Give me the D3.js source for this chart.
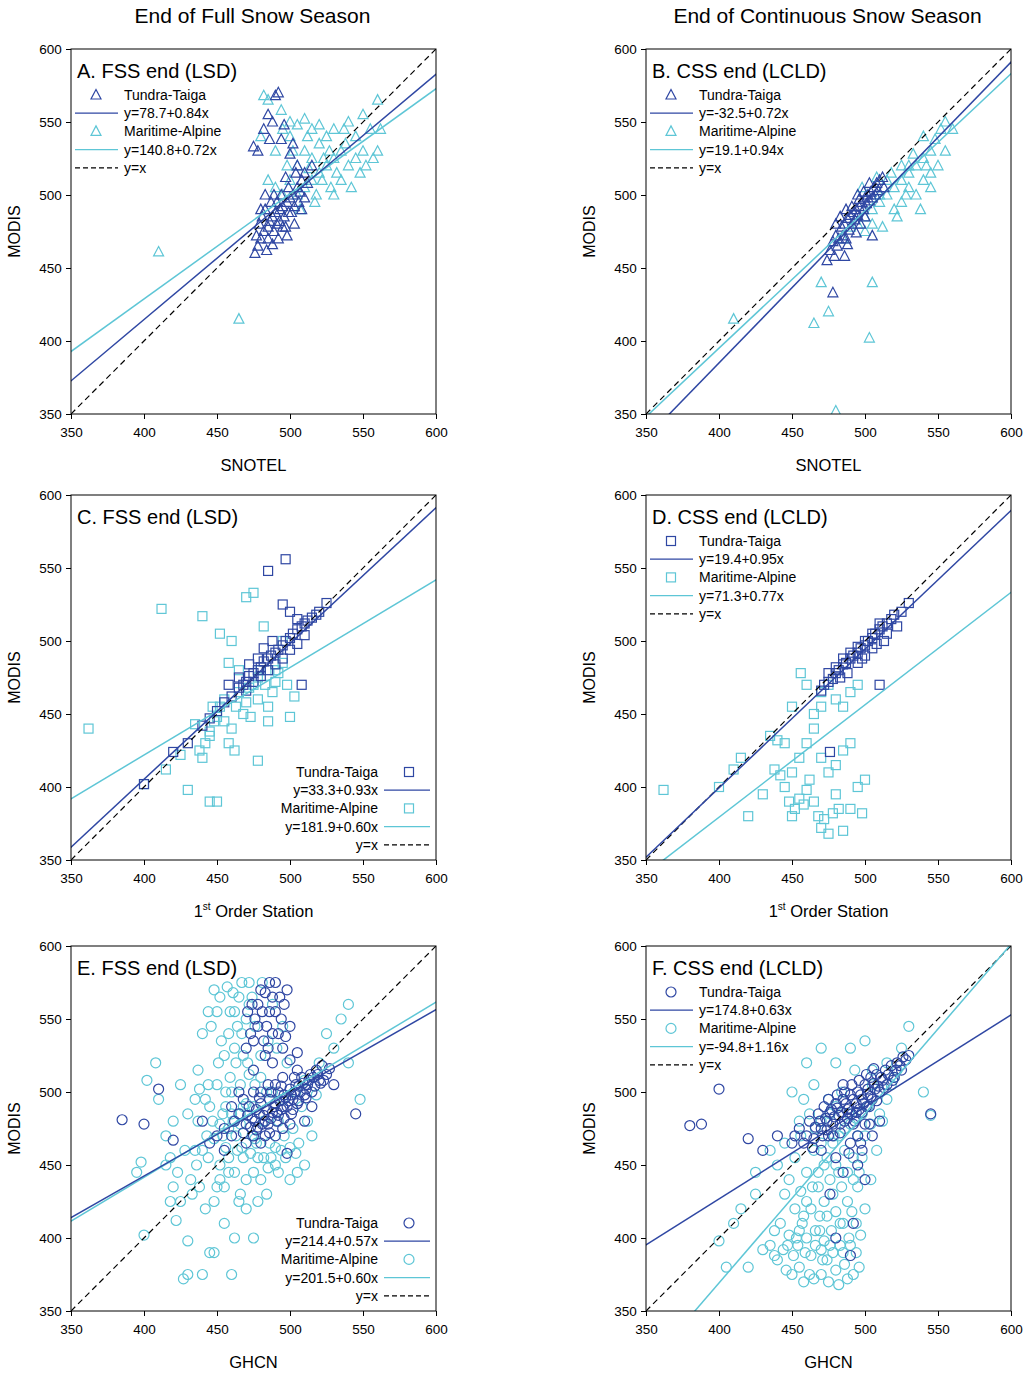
<!DOCTYPE html>
<html><head><meta charset="utf-8">
<script src="https://cdn.jsdelivr.net/npm/d3@7"></script>
<style>body{margin:0;background:#fff;font-family:Arial,"Liberation Sans",sans-serif}</style>
</head><body><svg id="c" width="1024" height="1374"></svg>
<script>
const ticks=[350,400,450,500,550,600];
const DARK="#2f47a3", LIGHT="#5ec6d6";
const columnTitles=["End of Full Snow Season","End of Continuous Snow Season"];
const xTitles=["SNOTEL","1st Order Station","GHCN"];
const panelTitles=["A. FSS end (LSD)","B. CSS end (LCLD)","C. FSS end (LSD)","D. CSS end (LCLD)","E. FSS end (LSD)","F. CSS end (LCLD)"];
const eqTT=["y=78.7+0.84x","y=-32.5+0.72x","y=33.3+0.93x","y=19.4+0.95x","y=214.4+0.57x","y=174.8+0.63x"];
const eqMA=["y=140.8+0.72x","y=19.1+0.94x","y=181.9+0.60x","y=71.3+0.77x","y=201.5+0.60x","y=-94.8+1.16x"];
const lineTT=[[78.7,0.84],[-27,1.03],[33.3,0.93],[19.4,0.95],[214.4,0.57],[174.8,0.63]];
const lineMA=[[140.8,0.72],[19.1,0.94],[181.9,0.60],[71.3,0.77],[201.5,0.60],[-94.8,1.16]];
const shapes=["tri","tri","sq","sq","circ","circ"];
const legendPos=["tl","tl","br","tl","br","tl"];

const aTT=[[478,465],[480,470],[482,475],[485,478],[486,482],[488,485],[490,488],[491,480],[493,490],[495,492],[496,485],[498,495],[500,498],[502,500],[503,492],[505,505],[507,502],[508,510],[510,498],[512,508],[485,470],[483,490],[487,495],[489,475],[492,470],[494,500],[497,478],[499,505],[501,488],[504,515],[506,495],[476,460],[479,480],[481,485],[484,462],[478,530],[482,545],[485,555],[490,568],[492,570],[488,550],[494,538],[496,548],[500,528],[502,535],[486,538],[505,520],[498,472],[510,515],[515,520],[508,490],[489,500],[493,482],[497,512],[483,500],[477,472],[480,490],[491,495],[495,478],[499,488],[503,480],[488,466],[475,533]];
const aMA=[[495,500],[500,510],[505,520],[510,530],[515,525],[520,535],[525,540],[530,545],[535,530],[540,550],[545,540],[550,555],[555,545],[560,530],[505,500],[510,505],[515,510],[520,515],[525,520],[530,525],[535,510],[540,520],[545,525],[550,530],[495,545],[500,540],[505,548],[510,552],[490,530],[485,565],[480,540],[498,520],[512,540],[518,500],[522,510],[528,505],[532,515],[538,535],[548,515],[557,525],[410,461],[465,415],[502,530],[507,490],[517,495],[527,530],[490,505],[485,510],[520,548],[530,500],[542,505],[552,520],[562,545],[537,545],[513,518],[523,525],[482,568],[494,558],[500,550],[515,545],[560,565]];
const bTT=[[476,462],[478,468],[480,472],[482,470],[484,478],[486,480],[488,484],[490,486],[492,488],[494,490],[496,492],[498,495],[500,498],[502,500],[504,502],[506,505],[508,508],[510,510],[512,512],[479,458],[481,465],[485,472],[487,470],[489,476],[491,480],[493,483],[495,486],[497,480],[499,490],[501,494],[503,496],[505,498],[507,500],[509,503],[483,485],[487,490],[491,492],[495,500],[499,502],[503,508],[488,466],[494,474],[500,485],[478,433],[505,472],[513,505],[480,480],[496,497],[486,458],[474,455]];
const bMA=[[495,480],[500,485],[505,490],[510,495],[515,500],[520,505],[525,510],[530,505],[535,500],[540,510],[545,515],[550,520],[555,530],[560,545],[520,490],[525,495],[530,515],[535,520],[540,525],[545,530],[515,510],[510,500],[505,480],[500,475],[525,520],[530,520],[518,515],[540,540],[548,538],[552,545],[555,550],[542,520],[528,500],[538,490],[522,485],[512,478],[410,415],[465,412],[475,420],[470,440],[505,440],[503,402],[480,352],[485,470],[490,478],[498,505],[508,512],[533,528],[545,505]];
const cTT=[[400,402],[420,424],[430,430],[440,442],[445,447],[450,452],[455,458],[460,462],[465,468],[468,470],[470,472],[472,476],[475,478],[478,480],[480,482],[482,486],[485,488],[487,490],[490,492],[492,494],[495,497],[497,500],[500,502],[502,505],[505,508],[508,510],[510,512],[512,514],[515,516],[518,518],[520,520],[525,526],[470,466],[475,472],[480,476],[485,480],[490,484],[495,488],[500,494],[505,498],[510,504],[485,548],[497,556],[495,525],[508,470],[500,520],[482,495],[488,500],[478,488],[465,475],[472,484],[458,470],[505,515]];
const cMA=[[362,440],[400,402],[412,522],[415,412],[425,422],[430,398],[440,517],[445,390],[450,390],[435,443],[440,420],[442,430],[445,438],[448,445],[450,448],[452,455],[455,460],[458,430],[460,440],[462,425],[465,465],[468,450],[470,458],[472,468],[475,470],[478,475],[480,480],[483,470],[485,455],[488,465],[490,472],[492,478],[495,485],[498,470],[500,448],[503,462],[478,418],[465,480],[458,485],[470,530],[475,533],[482,510],[460,500],[452,505],[445,435],[438,425],[447,455],[455,445],[463,455],[473,448],[485,445],[490,480],[495,500],[478,460]];
const dTT=[[470,466],[472,470],[475,472],[478,474],[480,478],[482,480],[485,484],[487,485],[490,488],[492,490],[495,492],[497,495],[500,497],[502,500],[505,502],[507,505],[510,508],[512,510],[515,512],[518,515],[520,518],[522,510],[525,520],[530,526],[475,478],[480,482],[485,488],[490,492],[495,496],[500,500],[505,505],[510,512],[515,505],[500,490],[495,485],[505,495],[476,424],[510,470],[483,475],[488,478],[498,488],[508,498],[513,500]];
const dMA=[[362,398],[400,400],[410,412],[415,420],[420,380],[430,395],[435,435],[440,432],[445,430],[450,455],[438,412],[442,408],[445,400],[448,390],[450,380],[452,385],[455,392],[458,388],[460,398],[462,405],[465,390],[468,380],[470,372],[472,378],[475,368],[478,382],[480,395],[482,385],[485,370],[490,385],[495,400],[498,382],[485,425],[490,430],[480,415],[475,410],[470,420],[465,440],[460,430],[455,420],[450,410],[470,465],[475,470],[480,460],[485,455],[490,465],[495,470],[465,450],[470,455],[460,470],[456,478],[500,405]];
const eTT=[[385,481],[400,478],[410,502],[420,467],[440,480],[450,470],[455,475],[460,470],[462,480],[465,485],[468,472],[470,478],[472,490],[474,482],[475,470],[477,488],[478,476],[480,492],[482,484],[483,470],[485,478],[486,495],[488,486],[490,492],[491,480],[492,500],[494,488],[495,475],[496,498],[498,490],[500,502],[501,485],[502,495],[504,505],[505,492],[507,500],[508,510],[510,498],[512,505],[514,512],[515,500],[518,515],[520,508],[522,518],[525,512],[530,505],[545,485],[480,465],[470,465],[490,470],[500,478],[475,500],[485,505],[495,510],[505,515],[465,500],[470,530],[473,540],[476,550],[478,560],[480,570],[482,535],[484,545],[486,555],[488,565],[490,575],[492,540],[494,550],[496,560],[498,570],[500,545],[486,575],[478,545],[471,555],[483,525],[495,530],[488,520],[475,515],[500,522],[505,527],[480,500],[490,505],[460,490],[455,460],[515,490],[510,480],[498,458],[468,495],[445,465],
 [476,480],[479,485],[481,478],[484,488],[487,482],[489,490],[491,486],[493,494],[495,490],[497,496],[499,494],[501,498],[503,500],[506,504],[509,506],[511,502],[513,508],[516,510],[519,512],[521,506],[473,476],[477,474],[483,480],[486,472],[492,484],[496,482],[502,488],[506,494],[511,496],[517,504],[523,508],[527,516],[471,484],[479,496],[487,500],[494,504],[503,510],[488,540],[493,565],[481,555],[485,530],[497,538],[474,560],[490,555],[483,568],[475,535]];
const eMA=[[395,445],[398,452],[400,402],[402,508],[408,520],[410,495],[415,470],[418,455],[420,435],[422,412],[425,425],[427,372],[430,398],[432,440],[435,460],[437,480],[438,502],[440,375],[442,420],[444,455],[445,490],[446,545],[448,390],[450,435],[451,520],[452,565],[454,470],[455,410],[456,500],[458,445],[459,555],[460,375],[461,480],[462,530],[464,460],[465,425],[466,505],[467,575],[468,490],[470,440],[471,520],[472,560],[474,470],[475,400],[476,545],[478,455],[480,510],[481,575],[482,480],[484,430],[485,535],[486,465],[488,500],[490,450],[491,530],[492,480],[494,460],[495,545],[496,470],[498,520],[500,440],[502,475],[504,500],[506,465],[508,490],[510,450],[512,480],[515,470],[518,498],[520,520],[525,540],[530,530],[535,550],[540,560],[548,495],[430,375],[445,390],[462,400],[478,425],[455,435],[468,455],[443,470],[435,495],[425,505],[415,450],[450,555],[465,565],[472,575],[488,560],[458,475],[475,490],[482,455],[495,495],[505,445],[510,508],[540,520],[420,480],[438,435],[452,450],[466,478],[476,468],
 [448,468],[452,478],[456,462],[460,485],[463,470],[467,462],[470,492],[473,458],[477,465],[456,490],[459,510],[463,520],[467,540],[470,550],[474,565],[458,540],[462,555],[455,525],[450,505],[447,480],[442,495],[440,460],[436,450],[433,430],[448,425],[452,440],[458,455],[462,445],[466,430],[470,420],[475,445],[480,440],[485,448],[490,462],[440,540],[444,555],[448,570],[453,535],[457,572],[461,568],[464,545],[468,525],[472,512],[476,505],[480,525],[484,500],[487,455],[492,445],[497,455],[500,462],[504,458],[466,485],[460,500],[454,485],[444,505],[437,515],[430,485],[428,460],[423,445],[418,425]];
const fTT=[[380,477],[388,478],[400,502],[420,468],[430,460],[440,470],[450,465],[455,475],[460,470],[462,480],[465,468],[468,485],[470,475],[472,490],[474,480],[475,470],[477,488],[478,478],[480,492],[482,484],[483,472],[485,495],[486,480],[488,488],[490,498],[491,485],[492,478],[494,492],[495,500],[496,488],[498,495],[500,505],[501,490],[502,498],[504,510],[505,495],[507,502],[508,512],[510,500],[512,508],[514,515],[515,505],[518,518],[520,510],[522,520],[525,515],[528,522],[530,525],[545,485],[490,465],[495,450],[500,440],[498,460],[485,445],[480,455],[470,460],[505,470],[492,410],[480,400],[490,388],[476,430],[510,480],[485,505],[475,495],[500,478],[495,470],
 [473,482],[476,486],[479,483],[481,489],[484,486],[487,492],[489,489],[492,495],[494,486],[497,498],[499,492],[502,502],[504,497],[506,506],[509,504],[511,510],[513,503],[516,512],[519,508],[521,515],[524,518],[526,524],[466,476],[469,480],[474,474],[478,470],[483,478],[488,482],[493,480],[498,486],[503,490],[508,494],[486,500],[491,505],[496,508],[501,512],[506,516],[481,498],[471,470],[458,465],[464,462],[452,470],[489,458],[497,465],[503,478]];
const fMA=[[400,398],[405,380],[410,410],[415,420],[420,380],[425,445],[430,392],[435,395],[438,405],[440,385],[442,410],[445,430],[447,395],[448,440],[450,375],[452,455],[453,400],[455,380],[456,470],[458,415],[459,390],[460,445],[462,375],[463,420],[465,460],[466,395],[468,435],[469,405],[470,480],[471,385],[472,450],[474,415],[475,495],[476,395],[478,430],[479,470],[480,378],[482,445],[483,410],[484,500],[485,390],[486,460],[488,425],[489,485],[490,395],[492,440],[493,515],[494,410],[495,470],[496,380],[498,455],[500,420],[502,490],[504,440],[505,505],[508,460],[510,500],[512,480],[515,520],[520,510],[525,530],[530,545],[540,500],[545,484],[450,500],[460,520],[470,530],[465,505],[455,480],[445,465],[435,460],[425,430],[440,450],[480,520],[490,530],[500,535],[505,515],[478,390],[488,372],[475,370],[465,372],[455,405],[470,392],[485,410],[495,435],
 [444,392],[448,402],[451,388],[454,395],[457,410],[460,400],[463,388],[466,405],[469,415],[472,398],[474,385],[477,405],[480,418],[483,395],[486,382],[489,400],[491,418],[494,390],[497,402],[460,425],[464,435],[468,445],[472,425],[476,440],[480,450],[484,435],[488,445],[492,455],[496,445],[474,455],[478,465],[482,470],[486,475],[490,478],[494,482],[498,485],[470,465],[466,475],[462,485],[458,495],[476,485],[480,490],[500,470],[504,478],[510,485],[515,495],[518,505],[522,515],[458,370],[470,375],[482,368],[492,375],[446,378],[438,388],[452,420],[456,432]];

const TT=[aTT,bTT,cTT,dTT,eTT,fTT], MA=[aMA,bMA,cMA,dMA,eMA,fMA];

const svg=d3.select("#c");
const lefts=[71,646], tops=[49,495,946], W=365, H=365;
columnTitles.forEach((t,i)=>svg.append("text").attr("x",lefts[i]+W/2-1).attr("y",23).attr("text-anchor","middle").attr("font-size",21).text(t));

function marker(g,shape,x,y,color){
  if(shape==="tri") g.append("path").attr("d",`M${x},${y-5.5}L${x+5},${y+4}L${x-5},${y+4}Z`).attr("fill","none").attr("stroke",color).attr("stroke-width",1.2);
  else if(shape==="sq") g.append("rect").attr("x",x-4.5).attr("y",y-4.5).attr("width",9).attr("height",9).attr("fill","none").attr("stroke",color).attr("stroke-width",1.2);
  else g.append("circle").attr("cx",x).attr("cy",y).attr("r",5).attr("fill","none").attr("stroke",color).attr("stroke-width",1.2);
}

for(let p=0;p<6;p++){
  const col=p%2,row=Math.floor(p/2);
  const L=lefts[col],T=tops[row];
  const x=d3.scaleLinear().domain([350,600]).range([L,L+W]);
  const y=d3.scaleLinear().domain([350,600]).range([T+H,T]);
  const g=svg.append("g");
  const cid="clip"+p;
  g.append("clipPath").attr("id",cid).append("rect").attr("x",L).attr("y",T).attr("width",W).attr("height",H);
  const pg=g.append("g").attr("clip-path",`url(#${cid})`);
  const sh=shapes[p];
  MA[p].forEach(d=>marker(pg,sh,x(d[0]),y(d[1]),LIGHT));
  TT[p].forEach(d=>marker(pg,sh,x(d[0]),y(d[1]),DARK));
  pg.append("line").attr("x1",x(350)).attr("y1",y(350)).attr("x2",x(600)).attr("y2",y(600)).attr("stroke","#000").attr("stroke-dasharray","6,4").attr("stroke-width",1.2);
  [[lineMA[p],LIGHT],[lineTT[p],DARK]].forEach(([ab,c])=>pg.append("line").attr("x1",x(340)).attr("y1",y(ab[0]+ab[1]*340)).attr("x2",x(610)).attr("y2",y(ab[0]+ab[1]*610)).attr("stroke",c).attr("stroke-width",1.5));
  g.append("g").attr("transform",`translate(0,${T+H})`).call(d3.axisBottom(x).tickValues(ticks).tickSize(5).tickSizeOuter(0)).call(a=>{a.select(".domain").remove();a.selectAll("text").attr("font-size",13.5).attr("font-family","Arial,Liberation Sans").attr("dy","1.1em");});
  g.append("g").attr("transform",`translate(${L},0)`).call(d3.axisLeft(y).tickValues(ticks).tickSize(5).tickSizeOuter(0)).call(a=>{a.select(".domain").remove();a.selectAll("text").attr("font-size",13.5).attr("font-family","Arial,Liberation Sans").attr("dx","-0.1em");});
  g.append("rect").attr("x",L).attr("y",T).attr("width",W).attr("height",H).attr("fill","none").attr("stroke","#000").attr("stroke-width",1);
  g.append("text").attr("x",L+6).attr("y",T+29).attr("font-size",20).text(panelTitles[p]);
  g.append("text").attr("transform",`translate(${L-51},${T+H/2}) rotate(-90)`).attr("text-anchor","middle").attr("font-size",16).text("MODIS");
  const items=[["m",DARK,"Tundra-Taiga"],["l",DARK,eqTT[p]],["m",LIGHT,"Maritime-Alpine"],["l",LIGHT,eqMA[p]],["d","#000","y=x"]];
  items.forEach((it,i)=>{
    if(legendPos[p]==="tl"){
      const yy=T+51+i*18.2, tx=L+53;
      if(it[0]==="m") marker(g,sh,L+25,yy-5,it[1]);
      else g.append("line").attr("x1",L+4).attr("x2",L+47).attr("y1",yy-5).attr("y2",yy-5).attr("stroke",it[1]).attr("stroke-width",1.3).attr("stroke-dasharray",it[0]==="d"?"5,3":null);
      g.append("text").attr("x",tx).attr("y",yy).attr("font-size",14).text(it[2]);
    } else {
      const yy=T+H-83+i*18.2, tx=L+W-58;
      if(it[0]==="m") marker(g,sh,L+W-27,yy-5,it[1]);
      else g.append("line").attr("x1",L+W-52).attr("x2",L+W-6).attr("y1",yy-5).attr("y2",yy-5).attr("stroke",it[1]).attr("stroke-width",1.3).attr("stroke-dasharray",it[0]==="d"?"5,3":null);
      g.append("text").attr("x",tx).attr("y",yy).attr("text-anchor","end").attr("font-size",14).text(it[2]);
    }
  });
  const xt=g.append("text").attr("x",L+W/2).attr("y",T+H+57).attr("text-anchor","middle").attr("font-size",16.5);
  if(row===1){xt.append("tspan").text("1");xt.append("tspan").attr("font-size",10).attr("dy",-7).text("st");xt.append("tspan").attr("dy",7).text(" Order Station");}
  else xt.text(xTitles[row]);
}
</script></body></html>
